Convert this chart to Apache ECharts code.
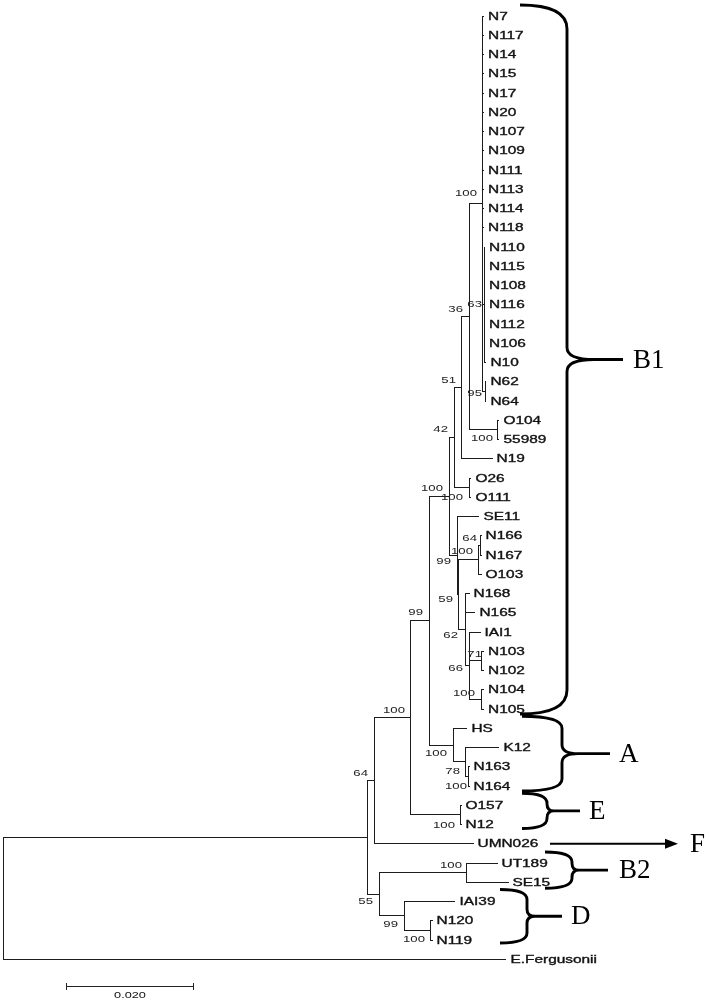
<!DOCTYPE html>
<html><head><meta charset="utf-8">
<script src="https://cdn.jsdelivr.net/npm/echarts@6/dist/echarts.min.js"></script>
<style>html,body{margin:0;padding:0;background:#fff}#chart{width:710px;height:1000px}</style>
</head><body><div id="chart"></div>
<script>
// ---------- DATA ----------
// leaves, in display order (top to bottom)
const leafNames = ['N7','N117','N14','N15','N17','N20','N107','N109','N111','N113','N114','N118',
  'N110','N115','N108','N116','N112','N106','N10','N62','N64','O104','55989','N19','O26','O111',
  'SE11','N166','N167','O103','N168','N165','IAI1','N103','N102','N104','N105',
  'HS','K12','N163','N164','O157','N12','UMN026','UT189','SE15','IAI39','N120','N119','E.Fergusonii'];
const leafParents = ['nTop','nTop','nTop','nTop','nTop','nTop','nTop','nTop','nTop','nTop','nTop','nTop',
  'n63','n63','n63','n63','n63','n63','n63','n95','n95','nO104','nO104','n51','nO26','nO26',
  'n99in','n64b','n64b','n100c','n62','n62','n66','n71','n71','n100d','n100d',
  'nA','n78','n163','n163','nE','nE','n64','nUT','nUT','nD','nN','nN','root'];
// cumulative distance from the root (substitutions per site)
const leafDist = [0.07567,0.07567,0.07567,0.07567,0.07567,0.07567,0.07567,0.07567,0.07567,0.07567,0.07567,0.07567,
  0.07583,0.07583,0.07583,0.07583,0.07583,0.07583,0.07606,0.07606,0.07606,0.07811,0.07811,0.07701,0.0737,0.0737,
  0.07496,0.07528,0.07528,0.07528,0.07339,0.07433,0.07512,0.07567,0.07567,0.07567,0.07567,
  0.07307,0.07811,0.07339,0.07339,0.07213,0.07213,0.07402,0.0778,0.07953,0.07118,0.06756,0.06756,0.07921];
// internal nodes
const nodeIds = ['root','nX','n64','n100a','n99','nB1','n42','n51','n36','nTop','n63','n95','nO104','nO26',
  'n99in','n59','n100c','n64b','n62','n66','n71','n100d','nA','n78','n163','nE','n55','nUT','nD','nN'];
const nodeParents = [null,'root','nX','n64','n100a','n99','nB1','n42','n51','n36','nTop','nTop','n36','n42',
  'nB1','n99in','n59','n100c','n59','n62','n66','n66','n99','nA','n78','n100a','nX','n55','n55','nD'];
const nodeDist = [0,0.05748,0.05858,0.06425,0.06724,0.07024,0.07118,0.07228,0.07354,0.07559,0.07583,0.07598,0.07795,0.07354,
  0.0715,0.07181,0.07496,0.07512,0.07276,0.07354,0.07543,0.07543,0.07102,0.07291,0.07323,0.07197,0.05937,0.07307,0.06315,0.0674];
const bootstrap = ['','','64','100','99','100','42','51','36','100','63','95','100','100',
  '99','59','100','64','62','66','71','100','100','78','100','100','55','100','99','100'];
// clade annotations
const cladeNames = ['B1','A','E','B2','D'];
const cladeFirst = ['N7','HS','O157','UT189','IAI39'];
const cladeLast = ['N105','N164','N12','SE15','N119'];
const arrowLeaf = 'UMN026', arrowName = 'F';
const scaleBarStart = 0.01, scaleBarLength = 0.02, scaleBarText = '0.020';

// ---------- LAYOUT / STYLE ----------
const labelOffset = {n64:[-7,-7],n100a:[-6,-7],n99:[-7,-8],nB1:[-6,-8],n42:[-7,-8],n51:[-6,-7],n36:[-7,-7],
  nTop:[-6,-10],n63:[-2.5,0],n95:[-3.5,2],nO104:[-5,9],nO26:[-7,10],n99in:[-6,6],n59:[-6,5],n100c:[-6,-8],
  n64b:[-3,-7],n62:[-7,6],n66:[-7,3],n71:[0,-6.5],n100d:[-7,-5.5],nA:[-7,8.5],n78:[-6,10],n163:[-1,10.5],
  nE:[-5,10.5],n55:[-7,7],nUT:[-5,-6.5],nD:[-6,9],nN:[-6,9.5]};
// brace geometry in px: hookX, stemX, tipX, lineEndX, textX, hookR, cuspR, padTop, padBottom
const braceLayout = [
  [520,567,594,623,633,24,12,11,5],
  [522,562,578,610,619,12,9,12,5],
  [522,547,554,580,589,10,7,12,4],
  [545,572,579,608,619,10,7,11,6],
  [500,527,535,562,571,10,7,12,3]
];
const scaleBarRow = 50.44;
const LINE = '#1c1c1c', TEXT = '#111';
const leafFont = '11px "Liberation Sans", Arial, sans-serif';
const bootFont = '8.5px "Liberation Sans", Arial, sans-serif';
const serifFont = '27px "Liberation Serif", "Times New Roman", serif';

// ---------- TREE LAYOUT ----------
const info = {};
nodeIds.forEach((id, i) => { info[id] = {x: nodeDist[i], parent: nodeParents[i], children: [], leaf: false, label: bootstrap[i]}; });
leafNames.forEach((n, i) => { info['L:' + n] = {x: leafDist[i], parent: leafParents[i], children: [], leaf: true, y: i, name: n}; });
Object.keys(info).forEach(k => { const p = info[k].parent; if (p) info[p].children.push(k); });
function layY(k) {
  const n = info[k];
  if (n.leaf) return n.y;
  const ys = n.children.map(layY);
  n.yMin = Math.min(...ys); n.yMax = Math.max(...ys);
  n.y = (n.yMin + n.yMax) / 2;
  return n.y;
}
layY('root');
const keys = Object.keys(info);
const treeData = keys.map((k, i) => {
  const n = info[k];
  const px = n.parent ? info[n.parent].x : n.x;
  return [n.x, n.y, px, n.leaf ? n.y : n.yMin, n.leaf ? n.y : n.yMax, i];
});

const snap = v => Math.round(v - 0.5) + 0.5;

function renderTree(params, api) {
  const k = keys[api.value(5)];
  const n = info[k];
  const p = api.coord([api.value(0), api.value(1)]);
  const pp = api.coord([api.value(2), api.value(1)]);
  const ls = {stroke: LINE, lineWidth: 1};
  const els = [];
  const yy = snap(p[1]);
  if (n.parent) els.push({type: 'line', shape: {x1: snap(pp[0]), y1: yy, x2: snap(p[0]) + (n.leaf ? 0.5 : 0), y2: yy}, style: ls});
  if (!n.leaf) {
    const a = api.coord([api.value(0), api.value(3)]), b = api.coord([api.value(0), api.value(4)]);
    els.push({type: 'line', shape: {x1: snap(p[0]), y1: snap(a[1]) - 0.5, x2: snap(p[0]), y2: snap(b[1]) + 0.5}, style: ls});
    if (n.label) {
      const o = labelOffset[k] || [-6, -7];
      els.push({type: 'text', x: p[0] + o[0], y: p[1] + o[1], scaleX: 1.55,
        style: {text: n.label, font: bootFont, fill: '#222', align: 'right', verticalAlign: 'middle'}});
    }
  } else {
    els.push({type: 'text', x: p[0] + 4.5, y: p[1] + 0.5, scaleX: 1.4,
      style: {text: n.name, font: leafFont, fill: TEXT, stroke: TEXT, lineWidth: 0.35, align: 'left', verticalAlign: 'middle'}});
  }
  return {type: 'group', children: els};
}

// clade braces & arrow
const braceData = cladeNames.map((c, i) => [0, leafNames.indexOf(cladeFirst[i]), leafNames.indexOf(cladeLast[i]), i]);
function renderBrace(params, api) {
  const i = api.value(3);
  const L = braceLayout[i];
  const yT = api.coord([0, api.value(1)])[1] - L[7];
  const yB = api.coord([0, api.value(2)])[1] + L[8];
  const yM = (yT + yB) / 2;
  const [xh, xv, xt, xl, xtext, r, r2] = L;
  const d = `M${xh} ${yT} Q${xv} ${yT} ${xv} ${yT + r} L${xv} ${yM - r2} Q${xv} ${yM} ${xt} ${yM} L${xl} ${yM} ` +
            `M${xt} ${yM} Q${xv} ${yM} ${xv} ${yM + r2} L${xv} ${yB - r} Q${xv} ${yB} ${xh} ${yB}`;
  return {type: 'group', children: [
    {type: 'path', shape: {pathData: d}, style: {stroke: '#000', lineWidth: 2.9, fill: null}},
    {type: 'text', x: xtext, y: yM + 1, style: {text: cladeNames[i], font: serifFont, fill: '#000', align: 'left', verticalAlign: 'middle'}}
  ]};
}
function renderArrow(params, api) {
  const y = api.coord([0, api.value(1)])[1];
  return {type: 'group', children: [
    {type: 'line', shape: {x1: 550, y1: y, x2: 668, y2: y}, style: {stroke: '#000', lineWidth: 2}},
    {type: 'polygon', shape: {points: [[678, y], [665, y - 5], [665, y + 5]]}, style: {fill: '#000'}},
    {type: 'text', x: 690, y: y + 1, style: {text: arrowName, font: serifFont, fill: '#000', align: 'left', verticalAlign: 'middle'}}
  ]};
}
function renderScale(params, api) {
  const a = api.coord([api.value(0), api.value(1)]);
  const b = api.coord([api.value(2), api.value(1)]);
  const y = snap(a[1]);
  const ls = {stroke: '#222', lineWidth: 1};
  return {type: 'group', children: [
    {type: 'line', shape: {x1: a[0], y1: y, x2: b[0], y2: y}, style: ls},
    {type: 'line', shape: {x1: snap(a[0]), y1: y - 3.5, x2: snap(a[0]), y2: y + 3.5}, style: ls},
    {type: 'line', shape: {x1: snap(b[0]), y1: y - 3.5, x2: snap(b[0]), y2: y + 3.5}, style: ls},
    {type: 'text', x: (a[0] + b[0]) / 2, y: y + 9, scaleX: 1.5,
      style: {text: scaleBarText, font: bootFont, fill: TEXT, align: 'center', verticalAlign: 'middle'}}
  ]};
}

const chart = echarts.init(document.getElementById('chart'), null, {renderer: 'canvas'});
chart.setOption({
  animation: false,
  backgroundColor: '#fff',
  grid: {left: 3, right: 8.5, top: 16, bottom: 1000 - 16 - 49 * 19.25},
  xAxis: {type: 'value', min: 0, max: 0.11, show: false},
  yAxis: {type: 'value', min: 0, max: 49, inverse: true, show: false},
  tooltip: {show: false},
  series: [
    {type: 'custom', name: 'tree', renderItem: renderTree, data: treeData, clip: false, silent: true},
    {type: 'custom', name: 'clades', renderItem: renderBrace, data: braceData, clip: false, silent: true},
    {type: 'custom', name: 'arrow', renderItem: renderArrow, data: [[0, leafNames.indexOf(arrowLeaf)]], clip: false, silent: true},
    {type: 'custom', name: 'scale', renderItem: renderScale, data: [[scaleBarStart, scaleBarRow, scaleBarStart + scaleBarLength]], clip: false, silent: true}
  ]
});
</script></body></html>
